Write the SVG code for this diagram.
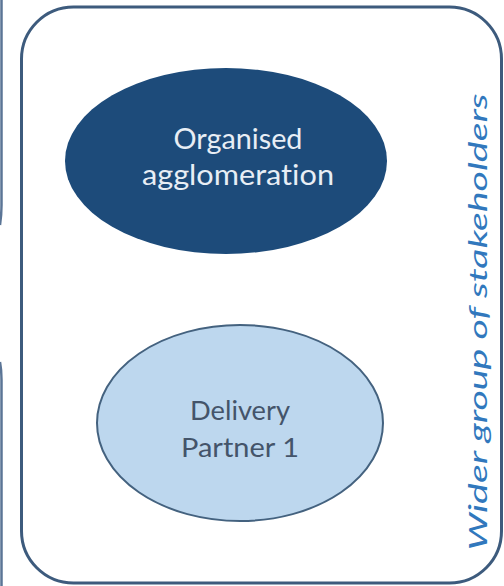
<svg xmlns="http://www.w3.org/2000/svg" width="504" height="586" viewBox="0 0 504 586">
  <style>
    .frame { fill: #ffffff; stroke: #3d5b7d; stroke-width: 3; }
    .edge { fill: none; stroke: #5b7596; stroke-width: 2.5; }
    .lbl { font-family: Lato, "Open Sans", "Liberation Sans", sans-serif; text-anchor: middle; font-variant-ligatures: none; }
    .dark { fill: #1d4b7a; }
    .darktxt { fill: #e8eef5; font-size: 29px; }
    .light { fill: #bdd7ee; stroke: #44627f; stroke-width: 2; }
    .lighttxt { fill: #44546a; font-size: 26.5px; }
    .side { fill: #3178bd; font-size: 25px; font-style: italic; }
  </style>
  <rect width="504" height="586" fill="#ffffff"/>
  <g id="left-edge">
    <path class="edge" d="M1.5 0 V205 Q1.5 215 0 225"/>
    <path class="edge" d="M0 362 Q1.5 370 1.5 380 V586"/>
  </g>
  <g id="stakeholders">
    <rect class="frame" x="21.5" y="7" width="480" height="576" rx="52" ry="52"/>
    <text class="lbl side" transform="translate(487 322) rotate(-90)" x="0" y="0" textLength="457" lengthAdjust="spacingAndGlyphs">Wider group of stakeholders</text>
  </g>
  <g id="organised-agglomeration">
    <ellipse class="dark" cx="226" cy="161" rx="161" ry="93"/>
    <text class="lbl darktxt" x="238" y="149" textLength="129" lengthAdjust="spacingAndGlyphs">Organised</text>
    <text class="lbl darktxt" x="238" y="185" textLength="192" lengthAdjust="spacingAndGlyphs">agglomeration</text>
  </g>
  <g id="delivery-partner-1">
    <ellipse class="light" cx="240" cy="423" rx="143" ry="98"/>
    <text class="lbl lighttxt" x="240" y="420" textLength="100" lengthAdjust="spacingAndGlyphs">Delivery</text>
    <text class="lbl lighttxt" x="240" y="457" textLength="118" lengthAdjust="spacingAndGlyphs">Partner 1</text>
  </g>
</svg>
